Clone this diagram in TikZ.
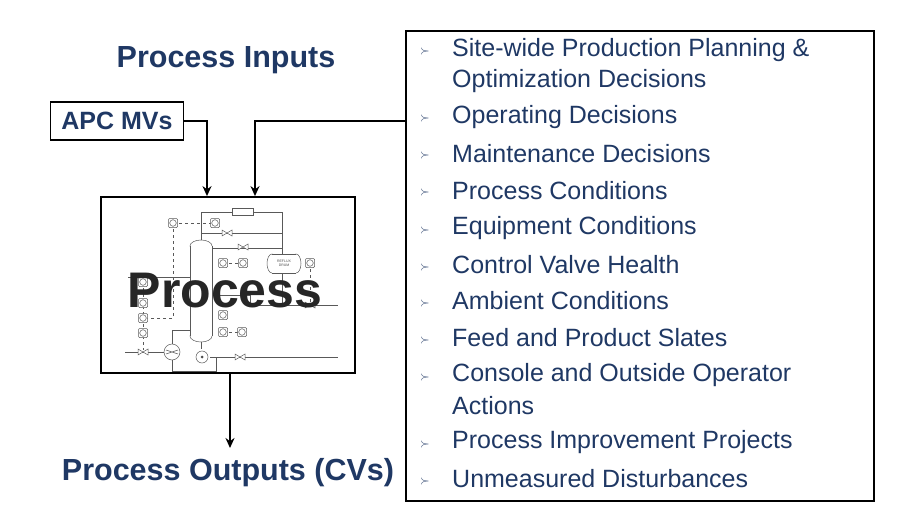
\documentclass[tikz,border=0pt]{standalone}
\usepackage{fontspec}
\setmainfont{Liberation Sans}
\usetikzlibrary{arrows.meta}
\begin{document}
\begin{tikzpicture}[x=1pt,y=-1pt,
  item/.style={anchor=west,font=\fontsize{25}{28}\selectfont,text=navyc,inner sep=0},
  bul/.style={anchor=center,font=\fontsize{13}{14}\selectfont,text=navyc,inner sep=0},
  arr/.style={-{Stealth[length=10pt,width=9pt]},line width=1.8pt},
  sch/.style={draw=gray!70!black,line width=0.5pt},
  inst/.style={sch,fill=white,minimum size=9pt,inner sep=0,rounded corners=1pt,draw},
]
\definecolor{navyc}{HTML}{1F3864}
\useasboundingbox (0,0) rectangle (912,513);
% titles
\node[font=\bfseries\fontsize{30.5}{34}\selectfont,text=navyc] (tin) at (226,60) {Process Inputs};
\node[font=\bfseries\fontsize{30.5}{34}\selectfont,text=navyc] (tout) at (228,473) {Process Outputs (CVs)};
\node[draw,line width=1.8pt,font=\bfseries\fontsize{25}{28}\selectfont,text=navyc,minimum width=133pt,minimum height=38pt] (apc) at (117,121) {APC MVs};
% process box
\node[draw,line width=1.8pt,minimum width=254pt,minimum height=176pt] (proc) at (228,285) {};
% schematic
\begin{scope}
\draw[sch] (201,246) ellipse (11 and 6);
\draw[sch] (201,336) ellipse (11 and 6);
\fill[white] (190,246) rectangle (212,336);
\draw[sch] (190,246) -- (190,336) (212,246) -- (212,336);
\draw[sch] (201,240) -- (201,212) -- (282,212) -- (282,254);
\draw[sch,fill=white] (232,208) rectangle (253,215);
\draw[sch] (201,212) -- (201,233) -- (282,233);
\draw[sch] (212,248) -- (282,248);
\draw[sch] (272,263.5) ellipse (5 and 9.5);
\draw[sch] (296,263.5) ellipse (5 and 9.5);
\fill[white] (272,254) rectangle (296,273);
\draw[sch] (272,254) -- (296,254) (272,273) -- (296,273);
\node[font=\fontsize{3.5}{4}\selectfont,align=center,gray!60!black] (rd) at (284,263.5) {REFLUX\\DRUM};
\draw[sch] (282,273) -- (282,305);
\draw[sch] (212,295) -- (250,295) -- (250,305) -- (338,305);
\draw[sch] (128,277) -- (190,277);
\draw[sch] (125,352) -- (164,352);
\draw[sch] (172,344) -- (172,330) -- (190,330);
\draw[sch] (172,360) -- (172,371) -- (216,371) -- (216,357);
\draw[sch] (201,342) -- (201,349);
\draw[sch] (210,357) -- (338,357);
\draw[sch,fill=white] (172,352) circle (8);
\draw[sch] (166,350) -- (178,354) (166,354) -- (178,350);
\draw[sch,fill=white] (202,357) circle (6);
\fill[gray!60!black] (202,357) circle (1.5);
\draw[sch,dashed] (173,223) -- (173,318) -- (143,318);
\draw[sch,dashed] (173,223) -- (215,223);
\draw[sch,dashed] (310,263) -- (310,305);
\draw[sch,dashed] (223,263) -- (243,263);
\draw[sch,dashed] (223,332) -- (242,332);
\draw[sch,dashed] (143,282) -- (143,350);
\foreach \p in {(173,223),(215,223),(223,263),(243,263),(310,263),(143,282),(143,303),(143,318),(143,333),(223,315),(223,332),(242,332)}
  \node[inst] at \p {} ;
\foreach \p in {(173,223),(215,223),(223,263),(243,263),(310,263),(143,282),(143,303),(143,318),(143,333),(223,315),(223,332),(242,332)}
  \draw[sch] \p circle (3.3);
\foreach \p in {(227,233),(243,247),(143,352),(240,357),(310,305)}
  \draw[sch,fill=white] \p ++(-5,-3) -- ++(10,6) -- ++(0,-6) -- ++(-10,6) -- cycle;
\end{scope}
\node[font=\bfseries\fontsize{50}{56}\selectfont,text=black!85] (ptxt) at (225,291) {Process};
% right box
\node[draw,line width=1.8pt,minimum width=468pt,minimum height=470pt,anchor=north west] (rb) at (405,30) {};
\foreach \y/\t in {50/Site-wide Production Planning \&, 117/Operating Decisions, 154/Maintenance Decisions, 191/Process Conditions, 228/Equipment Conditions, 265/Control Valve Health, 301/Ambient Conditions, 338/Feed and Product Slates, 375/Console and Outside Operator, 442/Process Improvement Projects, 479/Unmeasured Disturbances}{
  \node[bul] at (425,\y+2) {$\succ$};
  \node[item] at (452,\y) {\t};
}
\node[item] (l2) at (452,81) {Optimization Decisions};
\node[item] (l10) at (452,406) {Actions};
% arrows
\coordinate (a1) at (207,121);
\coordinate (a2) at (255,121);
\draw[arr] (apc.east) -- (a1) -- (a1 |- proc.north);
\draw[arr] (rb.west |- a2) -- (a2) -- (a2 |- proc.north);
\draw[arr] (proc.south -| 230,0) -- (230,448);
\end{tikzpicture}
\end{document}
